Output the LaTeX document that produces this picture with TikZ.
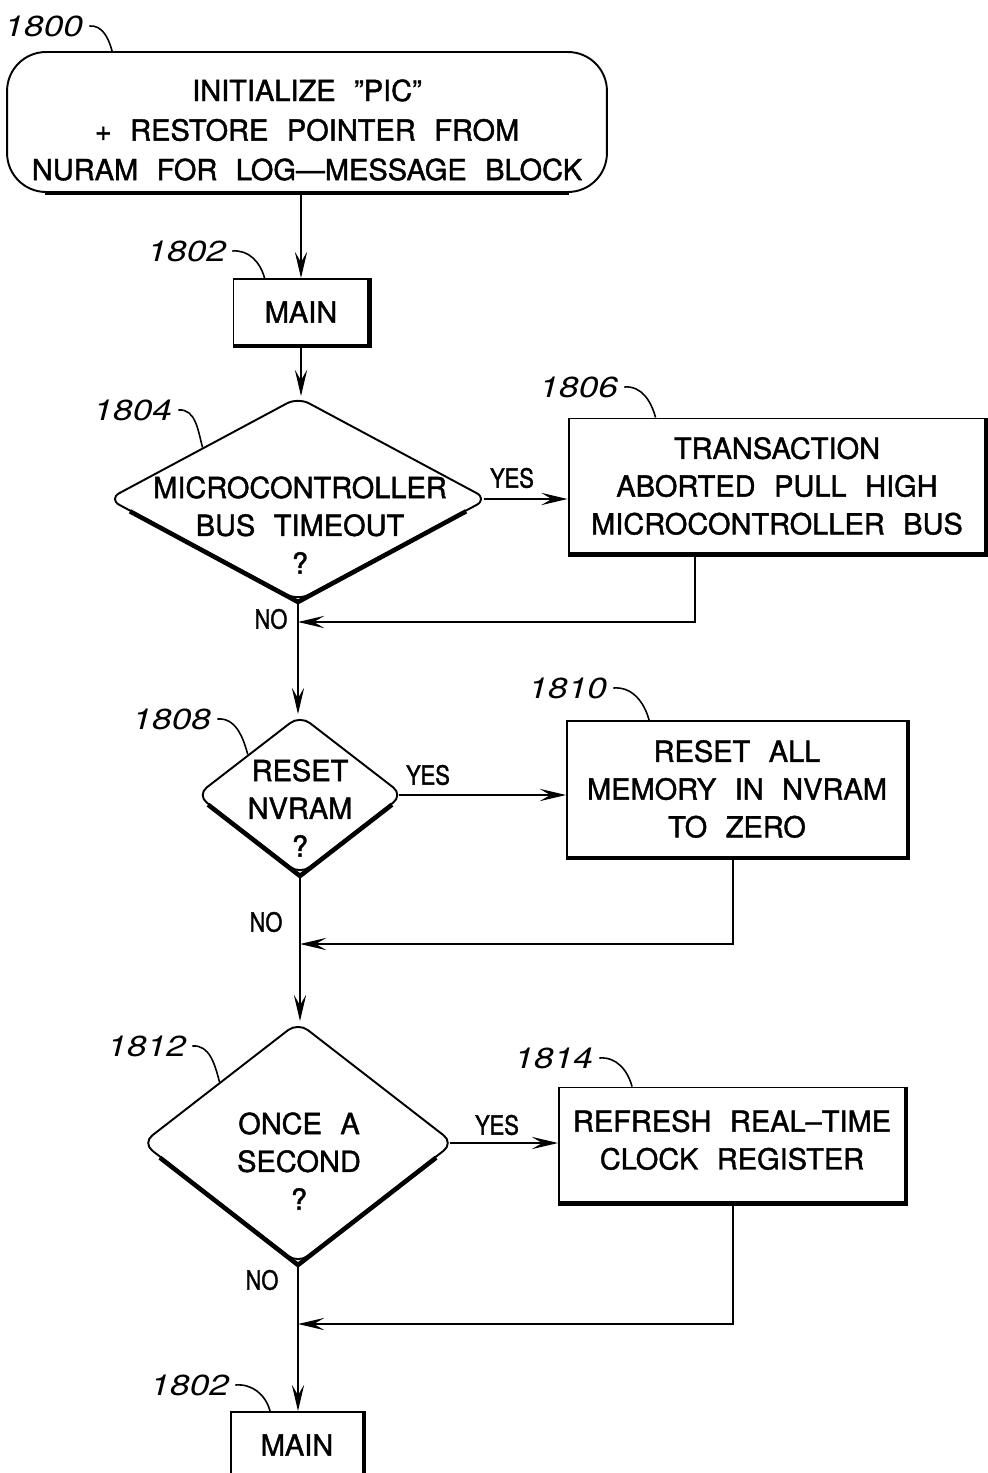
\documentclass[tikz,border=0pt]{standalone}
\usepackage{fontspec}
\setmainfont{TeX Gyre Heros}[WordSpace=2.3,FakeBold=1.4]
\newfontfamily\numfont{TeX Gyre Heros}[FakeSlant=0.25,FakeStretch=1.22]
\newfontfamily\ansfont{TeX Gyre Heros}[FakeStretch=0.83,FakeBold=1.4]
\usetikzlibrary{shapes.geometric,arrows.meta,calc}

\begin{document}
\begin{tikzpicture}[
    x=0.02cm, y=-0.02cm,
    line width=1.1pt,
    box/.style={
        rectangle, draw, inner sep=0pt, align=center,
        font=\fontsize{16.5}{21.5}\selectfont,
    },
    terminal/.style={box, rounded corners=0.78cm},
    decision/.style={diamond, draw, inner sep=0pt, rounded corners=0.25cm},
    txt/.style={align=center, inner sep=0pt, font=\fontsize{16.5}{21.5}\selectfont},
    num/.style={inner sep=4pt, font=\numfont\fontsize{16.5}{20}\selectfont},
    answer/.style={inner sep=0pt, font=\ansfont\fontsize{15}{18}\selectfont},
    flow/.style={-{Stealth[length=15pt,width=7pt,inset=6pt]}},
    lead/.style={line width=0.9pt},
    heavy/.style={line width=2.6pt},
    ]
    \useasboundingbox (0,0) rectangle (987,1473);

    % steps
    \node[terminal, minimum width=12cm, minimum height=2.8cm] (init) at (307,122) {};
    \node[txt, font=\fontsize{16.5}{22.5}\selectfont] (initt) at (307,130)
        {INITIALIZE ''PIC''\\+ RESTORE POINTER FROM\\NURAM FOR LOG---MESSAGE BLOCK};
    \node[box, minimum width=2.7cm, minimum height=1.32cm] (main1) at (301,312) {MAIN};
    \node[decision, minimum width=7.6cm, minimum height=4.08cm] (q1) at (298,499) {};
    \node[txt] (q1t) at (300,525) {MICROCONTROLLER\\BUS TIMEOUT\\?};
    \node[box, minimum width=8.34cm, minimum height=2.7cm] (act1) at (777,486)
        {TRANSACTION\\ABORTED PULL HIGH\\MICROCONTROLLER BUS};
    \node[decision, minimum width=4.14cm, minimum height=3.2cm] (q2) at (300,795) {};
    \node[txt] (q2t) at (300,808) {RESET\\NVRAM\\?};
    \node[box, minimum width=6.8cm, minimum height=2.72cm] (act2) at (737,789)
        {RESET ALL\\MEMORY IN NVRAM\\TO ZERO};
    \node[decision, minimum width=6.24cm, minimum height=4.84cm] (q3) at (298,1143) {};
    \node[txt] (q3t) at (299,1161) {ONCE A\\SECOND\\?};
    \node[box, minimum width=6.92cm, minimum height=2.3cm] (act3) at (732,1145) {};
    \node[txt] (act3t) at (732,1140) {REFRESH REAL--TIME\\CLOCK REGISTER};
    \node[box, minimum width=2.64cm, minimum height=1.32cm] (main2) at (297,1445) {MAIN};

    % heavy lower edges
    \foreach \n in {main1,act1,act2,act3,main2}
        \draw[heavy] (\n.north east) -- (\n.south east) -- (\n.south west);
    \foreach \n in {q1,q2,q3}
        \draw[heavy] ($(\n.west)!0.12!(\n.south)$) -- (\n.south) -- ($(\n.east)!0.12!(\n.south)$);
    \draw[heavy] ([xshift=0.78cm]init.south west) -- ([xshift=-0.78cm]init.south east);

    % joins
    \coordinate (j1) at (298,622);
    \coordinate (j2) at (300,944);
    \coordinate (j3) at (298,1324);

    % flow
    \draw[flow] (init.south -| main1.north) -- (main1.north);
    \draw[flow] (main1.south) -- (main1.south |- q1.north);
    \draw[flow] ([xshift=-3pt]q1.east) -- (q1.east -| act1.west);
    \draw[flow] ([xshift=-1.64cm]act1.south) |- (j1);
    \draw[flow] (q1.south) -- (q1.south |- q2.north);
    \draw[flow] ([xshift=-3pt]q2.east) -- (q2.east -| act2.west);
    \draw[flow] ([xshift=-0.08cm]act2.south) |- (j2);
    \draw[flow] (q2.south) -- (q2.south |- q3.north);
    \draw[flow] ([xshift=-3pt]q3.east) -- (q3.east -| act3.west);
    \draw[flow] ([xshift=0.02cm]act3.south) |- (j3);
    \draw[flow] (q3.south) -- (q3.south |- main2.north);

    % yes / no
    \node[answer] (y1) at (512,478) {YES};
    \node[answer] (n1) at (271,619) {NO};
    \node[answer] (y2) at (428,775) {YES};
    \node[answer] (n2) at (266,922) {NO};
    \node[answer] (y3) at (497,1125) {YES};
    \node[answer] (n3) at (262,1280) {NO};

    % reference numbers
    \node[num] (l1800) at (42,26) {1800};
    \node[num] (l1802a) at (185,251) {1802};
    \node[num] (l1804) at (131,410) {1804};
    \node[num] (l1806) at (577,387) {1806};
    \node[num] (l1808) at (170,719) {1808};
    \node[num] (l1810) at (566,688) {1810};
    \node[num] (l1812) at (145,1046) {1812};
    \node[num] (l1814) at (552,1058) {1814};
    \node[num] (l1802b) at (188,1385) {1802};

    \draw[lead] (l1800.east) to[out=5,in=105] ([xshift=2.12cm]init.north west);
    \draw[lead] (l1802a.east) to[out=5,in=105] ([xshift=0.64cm]main1.north west);
    \draw[lead] (l1804.east) to[out=5,in=105] (q1.north west);
    \draw[lead] (l1806.east) to[out=5,in=105] ([xshift=1.76cm]act1.north west);
    \draw[lead] (l1808.east) to[out=5,in=105] (q2.north west);
    \draw[lead] (l1810.east) to[out=5,in=105] ([xshift=1.66cm]act2.north west);
    \draw[lead] (l1812.east) to[out=5,in=105] (q3.north west);
    \draw[lead] (l1814.east) to[out=5,in=105] ([xshift=1.48cm]act3.north west);
    \draw[lead] (l1802b.east) to[out=5,in=105] ([xshift=0.8cm]main2.north west);

\end{tikzpicture}
\end{document}
